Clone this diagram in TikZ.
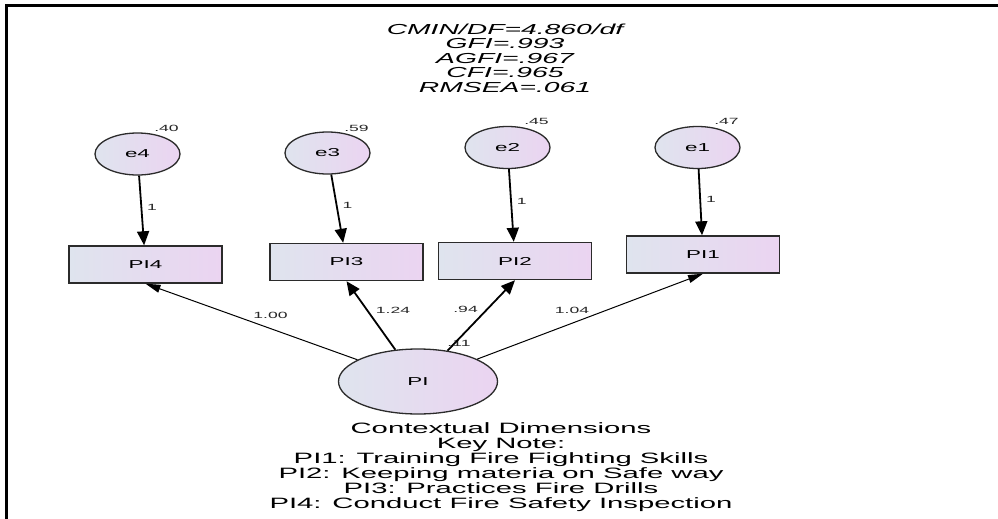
\documentclass[tikz,border=0pt]{standalone}
\usepackage{fontspec}
\setmainfont{Liberation Sans}
\usepackage{graphicx}
\usetikzlibrary{calc}
\usetikzlibrary{shapes.geometric, arrows.meta}
\definecolor{shadeL}{HTML}{DFE4EE}
\definecolor{shadeR}{HTML}{EBD4F1}
\definecolor{edgedark}{HTML}{2B2B2B}
\newcommand{\widetxt}[1]{\scalebox{1.95}[1]{#1}}
\tikzstyle{rect} = [
    rectangle,
    minimum width=153pt,
    minimum height=37pt,
    left color=shadeL,
    right color=shadeR,
    draw=edgedark,
    line width=1.4pt,
    font=\fontsize{11.5}{12}\selectfont,
]
\tikzstyle{circ} = [
    ellipse,
    inner sep=0pt,
    minimum width=85pt,
    minimum height=42pt,
    left color=shadeL,
    right color=shadeR,
    draw=edgedark,
    line width=1.3pt,
    font=\fontsize{11.5}{12}\selectfont,
]
\tikzstyle{bigcirc} = [circ, minimum width=159pt, minimum height=65pt]
\tikzstyle{lbl} = [inner sep=2pt, font=\fontsize{9}{10}\selectfont, text=black!85]
\tikzstyle{arrow} = [line width=1.8pt, -{Triangle[length=14pt,width=12pt]}]
\tikzstyle{thinarrow} = [line width=1pt, -{Triangle[length=15pt,width=8pt]}]

\begin{document}
\begin{tikzpicture}[x=1pt, y=-1pt]
    \useasboundingbox (0,0) rectangle (998,519);
    % frame of the figure
    \draw[line width=3pt] (998,5.5) -- (6.5,5.5) -- (6.5,519);

    \node (fit) [font=\fontsize{14.5}{14.5}\selectfont\itshape, align=center] at (505,58) {
        \widetxt{CMIN/DF=4.860/df}\\
        \widetxt{GFI=.993}\\
        \widetxt{AGFI=.967}\\
        \widetxt{CFI=.965}\\
        \widetxt{RMSEA=.061}
    };

    \node (e4) [circ] at (137.5,154) {\widetxt{e4}};
    \node (e3) [circ] at (327.5,153) {\widetxt{e3}};
    \node (e2) [circ] at (507.5,147.5) {\widetxt{e2}};
    \node (e1) [circ] at (697.5,147.5) {\widetxt{e1}};

    \node (pi4) [rect] at (145.5,264.5) {\widetxt{PI4}};
    \node (pi3) [rect] at (346.5,262) {\widetxt{PI3}};
    \node (pi2) [rect] at (515,261) {\widetxt{PI2}};
    \node (pi1) [rect] at (703,254.5) {\widetxt{PI1}};

    \node (PI) [bigcirc] at (418,381.5) {\widetxt{PI}};

    % variances
    \node (v4) [lbl] at ($(e4)+(29,-26)$) {\widetxt{.40}};
    \node (v3) [lbl] at ($(e3)+(29,-25)$) {\widetxt{.59}};
    \node (v2) [lbl] at ($(e2)+(29,-26.5)$) {\widetxt{.45}};
    \node (v1) [lbl] at ($(e1)+(29,-26.5)$) {\widetxt{.47}};
    \node (v0) [lbl] at (459,343) {\widetxt{.11}};

    % error terms
    \draw[arrow] (e4) -- (pi4) node[lbl, pos=0.45, right=3pt] {\widetxt{1}};
    \draw[arrow] (e3) -- (pi3) node[lbl, pos=0.45, right=3pt] {\widetxt{1}};
    \draw[arrow] (e2) -- (pi2) node[lbl, pos=0.45, right=3pt] {\widetxt{1}};
    \draw[arrow] (e1) -- (pi1) node[lbl, pos=0.45, right=3pt] {\widetxt{1}};

    % loadings
    \draw[thinarrow] (PI) -- (pi4.south) node[lbl, pos=0.41, above=7pt] {\widetxt{1.00}};
    \draw[arrow] (PI) -- (pi3.south) node[lbl, pos=0.58, right=6pt] {\widetxt{1.24}};
    \draw[arrow] (PI) -- (pi2.south) node[lbl, pos=0.58, left=6pt] {\widetxt{.94}};
    \draw[thinarrow] (PI) -- (pi1.south) node[lbl, pos=0.42, above=7pt] {\widetxt{1.04}};

    \node (key) [font=\fontsize{15}{15}\selectfont, align=center] at (501,467.5) {
        \widetxt{Contextual Dimensions}\\
        \widetxt{Key Note:}\\
        \widetxt{PI1: Training Fire Fighting Skills}\\
        \widetxt{PI2: Keeping materia on Safe way}\\
        \widetxt{PI3: Practices Fire Drills}\\
        \widetxt{PI4: Conduct Fire Safety Inspection}
    };
\end{tikzpicture}
\end{document}
